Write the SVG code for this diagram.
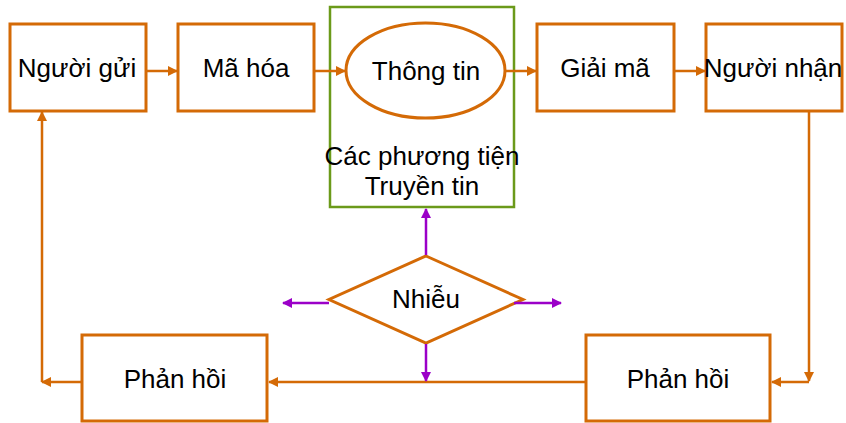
<svg xmlns="http://www.w3.org/2000/svg" width="846" height="423" viewBox="0 0 846 423">
  <defs>
    <style>
      .box { fill: #ffffff; stroke: #d46a06; stroke-width: 3; }
      .channel { fill: #ffffff; stroke: #6b9a1a; stroke-width: 2.5; }
      .label { font-family: "Liberation Sans", Arial, sans-serif; font-size: 26px; fill: #000000; text-anchor: middle; }
      .flow { fill: none; stroke: #d46a06; stroke-width: 2.5; }
      .noise { fill: none; stroke: #9b00c8; stroke-width: 2.5; }
    </style>
    <marker id="arrOrange" viewBox="0 0 10 10" refX="9" refY="5" markerWidth="4" markerHeight="4" orient="auto" markerUnits="strokeWidth">
      <path d="M0,0 L10,5 L0,10 z" fill="#d46a06"/>
    </marker>
    <marker id="arrPurple" viewBox="0 0 10 10" refX="9" refY="5" markerWidth="4" markerHeight="4" orient="auto" markerUnits="strokeWidth">
      <path d="M0,0 L10,5 L0,10 z" fill="#9b00c8"/>
    </marker>
  </defs>

  <!-- Channel frame with message inside -->
  <g id="channel">
    <rect class="channel" x="330" y="7" width="184" height="200"/>
    <text class="label" x="422" y="165">Các phương tiện</text>
    <text class="label" x="422" y="195">Truyền tin</text>
  </g>
  <g id="message">
    <ellipse cx="425.5" cy="70.5" rx="79.5" ry="47.5" fill="#ffffff" stroke="#d46a06" stroke-width="3"/>
    <text class="label" x="426" y="80">Thông tin</text>
  </g>

  <g id="sender">
    <rect class="box" x="10" y="24" width="136" height="87"/>
    <text class="label" x="77" y="77">Người gửi</text>
  </g>
  <g id="encode">
    <rect class="box" x="178" y="24" width="136" height="87"/>
    <text class="label" x="246" y="77">Mã hóa</text>
  </g>
  <g id="decode">
    <rect class="box" x="537" y="24" width="137" height="87"/>
    <text class="label" x="605" y="77">Giải mã</text>
  </g>
  <g id="receiver">
    <rect class="box" x="706" y="24" width="136" height="87"/>
    <text class="label" x="773" y="77">Người nhận</text>
  </g>

  <g id="noise">
    <polygon points="426,256 523,299.5 426,343 329,299.5" fill="#ffffff" stroke="#d46a06" stroke-width="3"/>
    <text class="label" x="426" y="308">Nhiễu</text>
  </g>

  <g id="feedback-left">
    <rect class="box" x="82" y="335" width="185" height="86"/>
    <text class="label" x="175" y="388">Phản hồi</text>
  </g>
  <g id="feedback-right">
    <rect class="box" x="586" y="335" width="184" height="86"/>
    <text class="label" x="678" y="388">Phản hồi</text>
  </g>

  <g id="connectors">
    <!-- main flow -->
    <line class="flow" x1="147" y1="71" x2="177" y2="71" marker-end="url(#arrOrange)"/>
    <line class="flow" x1="315" y1="71" x2="345" y2="71" marker-end="url(#arrOrange)"/>
    <line class="flow" x1="506" y1="71" x2="536" y2="71" marker-end="url(#arrOrange)"/>
    <line class="flow" x1="675" y1="71" x2="705" y2="71" marker-end="url(#arrOrange)"/>
    <!-- feedback loop -->
    <polyline class="flow" points="809,112 809,381" marker-end="url(#arrOrange)"/>
    <polyline class="flow" points="809,382 772,382" marker-end="url(#arrOrange)"/>
    <line class="flow" x1="585" y1="382" x2="269" y2="382" marker-end="url(#arrOrange)"/>
    <polyline class="flow" points="81,382 42,382" marker-end="url(#arrOrange)"/>
    <polyline class="flow" points="42,382 42,112" marker-end="url(#arrOrange)"/>
    <!-- noise -->
    <line class="noise" x1="426" y1="255" x2="426" y2="209" marker-end="url(#arrPurple)"/>
    <line class="noise" x1="329" y1="303" x2="283" y2="303" marker-end="url(#arrPurple)"/>
    <line class="noise" x1="514" y1="303" x2="561" y2="303" marker-end="url(#arrPurple)"/>
    <line class="noise" x1="426" y1="344" x2="426" y2="381" marker-end="url(#arrPurple)"/>
  </g>
</svg>
